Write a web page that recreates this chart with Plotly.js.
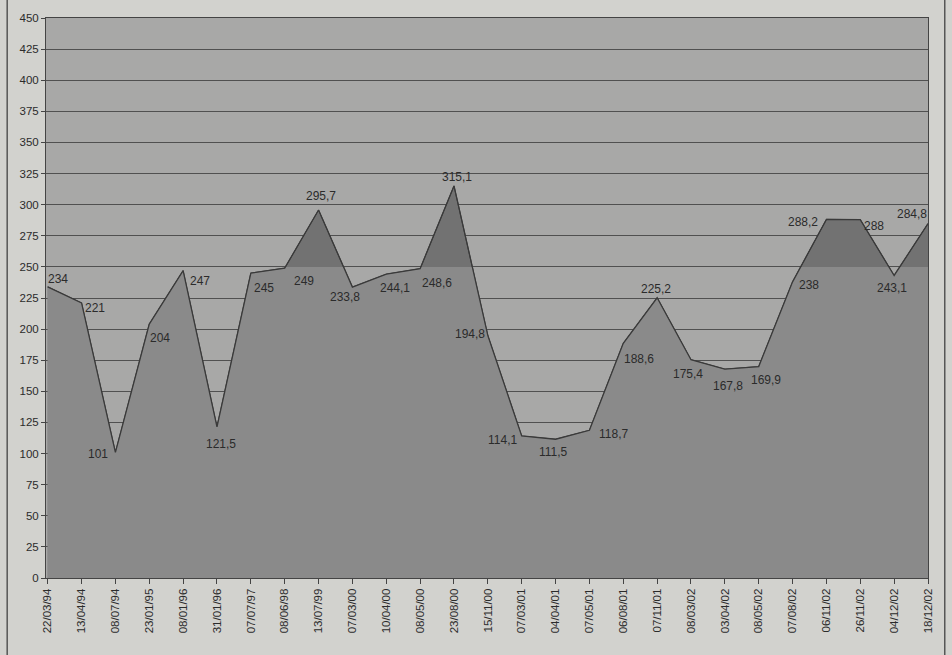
<!DOCTYPE html>
<html>
<head>
<meta charset="utf-8">
<script src="https://cdn.plot.ly/plotly-3.0.1.min.js"></script>
<style>
html,body{margin:0;padding:0;background:#d2d2ce;}
#chart{width:952px;height:655px;}
</style>
</head>
<body>
<div id="chart"></div>
<script>
const dates = ["22/03/94","13/04/94","08/07/94","23/01/95","08/01/96","31/01/96","07/07/97","08/06/98","13/07/99","07/03/00","10/04/00","08/05/00","23/08/00","15/11/00","07/03/01","04/04/01","07/05/01","06/08/01","07/11/01","08/03/02","03/04/02","08/05/02","07/08/02","06/11/02","26/11/02","04/12/02","18/12/02"];
const values = [234,221,101,204,247,121.5,245,249,295.7,233.8,244.1,248.6,315.1,194.8,114.1,111.5,118.7,188.6,225.2,175.4,167.8,169.9,238,288.2,288,243.1,284.8];
const threshold = 250;

// label offsets in pixels (style only): right / down
const labelDx = [10,13,-17,11,17,4,13,19,2,-7,9,17,3,-18,-19,-2,24,16,-1,-3,3,7,16,-23,14,-2,-16];
const labelDy = [-8,5,2,14,10,17,15,13,-14,10,14,14,-9,-2,4,13,4,16,-9,14,17,13,3,3,6,13,-10];

const idx = dates.map((d,i)=>i);
const labels = values.map(v=>String(v).replace('.',','));

// lower part: data clipped at threshold (crossings found from the data itself)
const lowX = [], lowY = [];
for (let i=0;i<values.length;i++){
  lowX.push(i); lowY.push(Math.min(values[i],threshold));
  if (i<values.length-1){
    const a=values[i]-threshold, b=values[i+1]-threshold;
    if (a*b<0){
      lowX.push(i + (threshold-values[i])/(values[i+1]-values[i]));
      lowY.push(threshold);
    }
  }
}

const traces = [
  {x:idx,y:values,type:'scatter',mode:'lines',fill:'tozeroy',fillcolor:'#727272',line:{color:'#3c3c3c',width:1},hoverinfo:'skip'},
  {x:lowX,y:lowY,type:'scatter',mode:'lines',fill:'tozeroy',fillcolor:'#8a8a8a',line:{color:'rgba(0,0,0,0)',width:0},hoverinfo:'skip'},
  {x:idx,y:values,type:'scatter',mode:'lines',line:{color:'#3a3a3a',width:1.3},hoverinfo:'skip'}
];

const annotations = values.map((v,i)=>({
  x:i,y:v,xref:'x',yref:'y',text:labels[i],showarrow:false,
  xanchor:'center',yanchor:'middle',xshift:labelDx[i],yshift:-labelDy[i],
  font:{family:'Liberation Sans, Arial, sans-serif',size:12,color:'#2b2b2b'}
}));

const layout = {
  width:952,height:655,
  margin:{l:46,r:24,t:18,b:77},
  paper_bgcolor:'#d2d2ce',
  plot_bgcolor:'#a8a8a7',
  showlegend:false,
  font:{family:'Liberation Sans, Arial, sans-serif',size:11,color:'#2b2b2b'},
  xaxis:{
    range:[-0.05,26],
    tickmode:'array',tickvals:idx,ticktext:dates,tickangle:-90,
    ticks:'outside',ticklen:5,tickcolor:'#444',
    showgrid:false,zeroline:false,
    showline:true,linecolor:'#444',linewidth:1,mirror:true,
    tickfont:{size:11.5,color:'#2b2b2b'}
  },
  yaxis:{
    range:[0,450],dtick:25,tick0:0,
    ticks:'outside',ticklen:4,tickcolor:'#444',
    showgrid:true,gridcolor:'#505050',gridwidth:1,zeroline:false,
    showline:true,linecolor:'#444',linewidth:1,mirror:true,
    tickfont:{size:11.5,color:'#2b2b2b'}
  },
  annotations:annotations,
  shapes:[
    {type:'line',xref:'paper',yref:'paper',x0:-0.044,x1:-0.044,y0:-0.14,y1:1.04,line:{color:'#555',width:1.5}},
    {type:'line',xref:'paper',yref:'paper',x0:1.019,x1:1.019,y0:-0.14,y1:1.04,line:{color:'#555',width:1.5}}
  ]
};

Plotly.newPlot('chart',traces,layout,{displayModeBar:false,staticPlot:true});
</script>
</body>
</html>
